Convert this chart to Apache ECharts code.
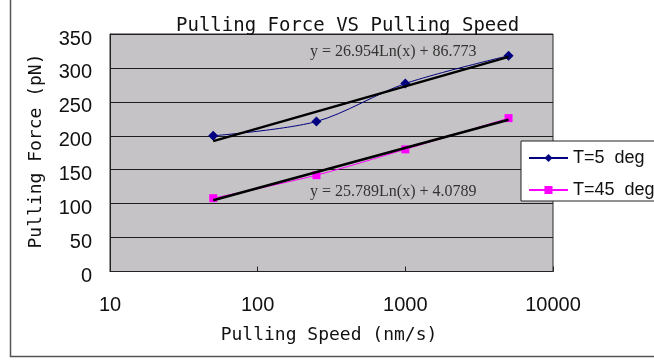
<!DOCTYPE html>
<html>
<head>
<meta charset="utf-8">
<script src="https://cdn.jsdelivr.net/npm/echarts@6/dist/echarts.min.js"></script>
<style>
  html, body { margin: 0; padding: 0; background: #fff; }
  #chart { width: 654px; height: 360px; }
</style>
</head>
<body>
<div id="chart"></div>
<script>
// Pulling speed (nm/s) of each measurement
const speeds = [50, 250, 1000, 5000];
// Mean pulling force (pN) at each speed
const force5 = [200, 221, 277, 318];
const force45 = [108, 142, 180, 226];
// Logarithmic fits, evaluated at the ends of the measured range
const trendSpeeds = [50, 5000];
const trend5 = [192.2, 316.3];
const trend45 = [105.0, 223.7];
const trendEquations = ['y = 26.954Ln(x) + 86.773', 'y = 25.789Ln(x) + 4.0789'];
// Axis ticks
const xTicks = [10, 100, 1000, 10000];
const yTicks = [0, 50, 100, 150, 200, 250, 300, 350];
const seriesNames = ['T=5  deg', 'T=45  deg'];

const pairs = (xs, ys) => xs.map((x, i) => [x, ys[i]]);

const chart = echarts.init(document.getElementById('chart'), null, { renderer: 'canvas' });

const tickFont = '"Liberation Sans", Arial, sans-serif';
const monoFont = '"DejaVu Sans Mono", monospace';

chart.setOption({
  animation: false,
  backgroundColor: '#fff',
  title: {
    text: 'Pulling Force VS Pulling Speed',
    left: 171,
    top: 12,
    textStyle: { fontFamily: monoFont, fontSize: 19, fontWeight: 'normal', color: '#111' }
  },
  grid: {
    left: 110, right: 101, top: 34, bottom: 88.5,
    show: true,
    backgroundColor: '#c5c3c5',
    borderColor: '#2a2a2a',
    borderWidth: 1
  },
  legend: {
    data: seriesNames,
    orient: 'vertical',
    left: 521,
    top: 141,
    padding: [7, 60, 1, 7],
    itemGap: 12,
    itemWidth: 39,
    itemHeight: 10,
    backgroundColor: '#fff',
    borderColor: '#222',
    borderWidth: 1,
    borderRadius: 0,
    textStyle: { fontFamily: tickFont, fontSize: 18, color: '#111', lineHeight: 20 }
  },
  xAxis: {
    type: 'log',
    logBase: 10,
    min: xTicks[0],
    max: xTicks[xTicks.length - 1],
    axisLine: { show: true, lineStyle: { color: '#222', width: 1 } },
    axisTick: { show: true, inside: true, length: 5, lineStyle: { color: '#222' } },
    axisLabel: {
      margin: 24,
      fontFamily: tickFont,
      fontSize: 20,
      color: '#111',
      formatter: v => String(Math.round(v))
    },
    splitLine: { show: false }
  },
  yAxis: {
    type: 'value',
    min: yTicks[0],
    max: yTicks[yTicks.length - 1],
    interval: yTicks[1] - yTicks[0],
    axisLine: { show: true, lineStyle: { color: '#222', width: 1 } },
    axisTick: { show: false },
    axisLabel: {
      margin: 18,
      fontFamily: tickFont,
      fontSize: 20,
      color: '#111',
      verticalAlign: 'top',
      lineHeight: 10
    },
    splitLine: { show: true, lineStyle: { color: '#1e1e1e', width: 1.2 } }
  },
  graphic: [
    // outer chart frame
    {
      type: 'rect', left: 8, top: -10, z: -10, silent: true,
      shape: { width: 700, height: 364 },
      style: { fill: 'none', stroke: '#555', lineWidth: 1.5 }
    },
    {
      type: 'text', x: 36, y: 151, rotation: Math.PI / 2, silent: true,
      style: { text: 'Pulling Force (pN)', font: '18px ' + monoFont, fill: '#111', textAlign: 'center', textVerticalAlign: 'middle' }
    },
    {
      type: 'text', x: 329, y: 335, silent: true,
      style: { text: 'Pulling Speed (nm/s)', font: '18px ' + monoFont, fill: '#111', textAlign: 'center', textVerticalAlign: 'middle' }
    },
    {
      type: 'text', x: 310, y: 52, z: 10, silent: true,
      style: { text: trendEquations[0], font: '16px "Liberation Serif", "Times New Roman", serif', fill: '#333', textAlign: 'left', textVerticalAlign: 'middle' }
    },
    {
      type: 'text', x: 310, y: 192, z: 10, silent: true,
      style: { text: trendEquations[1], font: '16px "Liberation Serif", "Times New Roman", serif', fill: '#333', textAlign: 'left', textVerticalAlign: 'middle' }
    }
  ],
  series: [
    {
      name: seriesNames[0],
      type: 'line',
      data: pairs(speeds, force5),
      smooth: 0.3,
      symbol: 'diamond',
      symbolSize: 10,
      z: 2,
      lineStyle: { color: '#000080', width: 1 },
      itemStyle: { color: '#000080' }
    },
    {
      name: seriesNames[1],
      type: 'line',
      data: pairs(speeds, force45),
      smooth: 0.3,
      symbol: 'rect',
      symbolSize: 8,
      z: 2,
      lineStyle: { color: '#ff00ff', width: 1 },
      itemStyle: { color: '#ff00ff' }
    },
    {
      name: 'fit5',
      type: 'line',
      data: pairs(trendSpeeds, trend5),
      symbol: 'none',
      z: 3,
      lineStyle: { color: '#000', width: 2.5 }
    },
    {
      name: 'fit45',
      type: 'line',
      data: pairs(trendSpeeds, trend45),
      symbol: 'none',
      z: 3,
      lineStyle: { color: '#000', width: 2.5 }
    }
  ]
});
</script>
</body>
</html>
